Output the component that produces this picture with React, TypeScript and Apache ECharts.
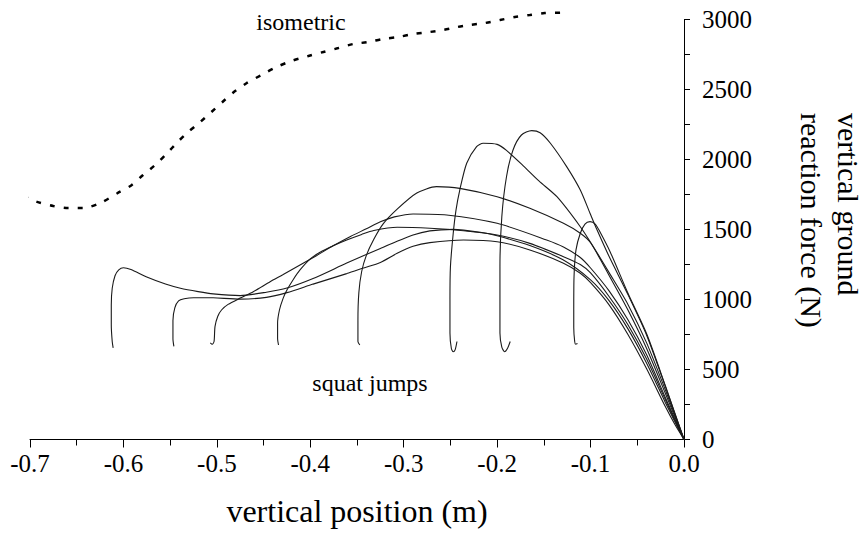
import React, { useEffect, useRef } from "react";
import * as echarts from "echarts";

type Pt = [number, number];

const xTickLabels = ["-0.7", "-0.6", "-0.5", "-0.4", "-0.3", "-0.2", "-0.1", "0.0"];
const annotations = ["isometric", "squat jumps"];
const yAxisTitle = "vertical ground\nreaction force (N)";
const xAxisTitle = "vertical position (m)";

const isometric: Pt[] = [
  [-0.707, 1739], [-0.693, 1699], [-0.675, 1668], [-0.659, 1654], [-0.643, 1654],
  [-0.625, 1689], [-0.606, 1761], [-0.591, 1818], [-0.579, 1889], [-0.566, 1961],
  [-0.553, 2046], [-0.543, 2118], [-0.532, 2189], [-0.519, 2261], [-0.507, 2332],
  [-0.494, 2411], [-0.483, 2475], [-0.468, 2546], [-0.452, 2604], [-0.436, 2661],
  [-0.42, 2704], [-0.402, 2739], [-0.386, 2768], [-0.37, 2796], [-0.354, 2825],
  [-0.338, 2839], [-0.322, 2861], [-0.306, 2875], [-0.29, 2896], [-0.272, 2911],
  [-0.258, 2925], [-0.243, 2946], [-0.229, 2961], [-0.213, 2975], [-0.197, 2996],
  [-0.181, 3018], [-0.165, 3032], [-0.149, 3046], [-0.131, 3049],
];

const jumpA: Pt[] = [
  [-0.611, 655], [-0.612, 700], [-0.613, 820], [-0.613, 960], [-0.612, 1080],
  [-0.609, 1170], [-0.605, 1212], [-0.6, 1227], [-0.592, 1214], [-0.575, 1160],
  [-0.555, 1110], [-0.539, 1080], [-0.52, 1056], [-0.504, 1040], [-0.475, 1028],
  [-0.447, 1052], [-0.425, 1082], [-0.397, 1150], [-0.361, 1260], [-0.325, 1365],
  [-0.29, 1460], [-0.272, 1490], [-0.247, 1501], [-0.218, 1480], [-0.2, 1455],
  [-0.165, 1385], [-0.13, 1285], [-0.1, 1140], [-0.08, 990], [-0.06, 790],
  [-0.04, 545], [-0.02, 265], [-0.01, 130], [0, 0],
];

const jumpB: Pt[] = [
  [-0.546, 665], [-0.547, 720], [-0.547, 850], [-0.545, 940], [-0.541, 990],
  [-0.535, 1005], [-0.525, 1013], [-0.504, 1012], [-0.475, 1003], [-0.447, 1015],
  [-0.425, 1049], [-0.397, 1110], [-0.361, 1185], [-0.343, 1225], [-0.325, 1265],
  [-0.307, 1330], [-0.29, 1380], [-0.272, 1406], [-0.236, 1425], [-0.2, 1413],
  [-0.165, 1354], [-0.129, 1259], [-0.111, 1187], [-0.1, 1120], [-0.08, 960],
  [-0.06, 750], [-0.04, 505], [-0.02, 235], [-0.01, 110], [0, 0],
];

const jumpC: Pt[] = [
  [-0.507, 690], [-0.505, 680], [-0.503, 700], [-0.502, 806], [-0.499, 880],
  [-0.495, 925], [-0.488, 965], [-0.475, 1010], [-0.461, 1056], [-0.443, 1127],
  [-0.429, 1178], [-0.411, 1246], [-0.393, 1315], [-0.375, 1385], [-0.357, 1450],
  [-0.34, 1505], [-0.325, 1555], [-0.31, 1590], [-0.29, 1611], [-0.254, 1604],
  [-0.2, 1544], [-0.147, 1425], [-0.129, 1375], [-0.111, 1300], [-0.1, 1225],
  [-0.08, 1060], [-0.06, 855], [-0.04, 605], [-0.02, 300], [-0.01, 150], [0, 0],
];

const jumpD: Pt[] = [
  [-0.434, 675], [-0.435, 720], [-0.435, 830], [-0.433, 925], [-0.429, 1010],
  [-0.425, 1068], [-0.418, 1145], [-0.411, 1211], [-0.4, 1290], [-0.39, 1335],
  [-0.375, 1385], [-0.361, 1425], [-0.345, 1465], [-0.332, 1493], [-0.307, 1516],
  [-0.272, 1509], [-0.236, 1491], [-0.2, 1461], [-0.165, 1401], [-0.129, 1306],
  [-0.111, 1250], [-0.1, 1190], [-0.08, 1020], [-0.06, 820], [-0.04, 575],
  [-0.02, 285], [-0.01, 140], [0, 0],
];

const jumpE: Pt[] = [
  [-0.347, 675], [-0.349, 700], [-0.349, 850], [-0.348, 1050], [-0.345, 1200],
  [-0.34, 1315], [-0.332, 1430], [-0.322, 1540], [-0.307, 1645], [-0.286, 1760],
  [-0.265, 1806], [-0.24, 1794], [-0.2, 1734], [-0.165, 1651], [-0.129, 1544],
  [-0.111, 1473], [-0.1, 1405], [-0.08, 1170], [-0.06, 925], [-0.04, 650],
  [-0.02, 330], [-0.01, 165], [0, 0],
];

const jumpF: Pt[] = [
  [-0.243, 700], [-0.245, 640], [-0.247, 627], [-0.249, 650], [-0.2505, 760],
  [-0.2505, 1000], [-0.25, 1234], [-0.247, 1473], [-0.244, 1640], [-0.24, 1782],
  [-0.2326, 1973], [-0.222, 2092], [-0.215, 2116], [-0.2, 2108], [-0.19, 2065],
  [-0.172, 1955], [-0.155, 1845], [-0.136, 1734], [-0.111, 1520], [-0.097, 1377],
  [-0.08, 1190], [-0.06, 965], [-0.04, 690], [-0.02, 355], [-0.01, 178], [0, 0],
];

const jumpG: Pt[] = [
  [-0.186, 700], [-0.189, 650], [-0.192, 627], [-0.195, 660], [-0.197, 760],
  [-0.197, 1000], [-0.197, 1234], [-0.195, 1591], [-0.19, 1877], [-0.183, 2068],
  [-0.174, 2175], [-0.163, 2206], [-0.154, 2191], [-0.143, 2116], [-0.1256, 1949],
  [-0.111, 1782], [-0.1006, 1616], [-0.093, 1496], [-0.08, 1305], [-0.06, 1035],
  [-0.04, 745], [-0.02, 380], [-0.01, 190], [0, 0],
];

const jumpH: Pt[] = [
  [-0.114, 685], [-0.116, 680], [-0.117, 700], [-0.118, 800], [-0.118, 925],
  [-0.1177, 1163], [-0.1156, 1354], [-0.111, 1473], [-0.106, 1539], [-0.1006, 1556],
  [-0.095, 1539], [-0.09, 1484], [-0.079, 1340], [-0.06, 1045], [-0.04, 755],
  [-0.02, 385], [-0.01, 192], [0, 0],
];

const squatJumps: Pt[][] = [jumpA, jumpB, jumpC, jumpD, jumpE, jumpF, jumpG, jumpH];

const FONT = "'Liberation Serif', 'Times New Roman', serif";

export default function App() {
  const ref = useRef<HTMLDivElement>(null);

  useEffect(() => {
    if (!ref.current) return;
    const chart = echarts.init(ref.current, null, { renderer: "svg" });
    const axisLineStyle = { color: "#000", width: 1 };
    chart.setOption({
      animation: false,
      backgroundColor: "#fff",
      grid: {
        left: 30,
        right: 183,
        top: 19.5,
        bottom: 95.5,
        containLabel: false,
        outerBoundsMode: "none",
      },
      xAxis: {
        type: "value",
        min: -0.7,
        max: 0,
        interval: 0.1,
        position: "bottom",
        axisLine: { show: true, onZero: false, lineStyle: axisLineStyle },
        axisTick: { show: true, length: 8, lineStyle: axisLineStyle },
        minorTick: { show: true, splitNumber: 2, length: 6, lineStyle: axisLineStyle },
        splitLine: { show: false },
        axisLabel: {
          fontFamily: FONT,
          fontSize: 25,
          color: "#000",
          margin: 11,
          formatter: (v: number) => xTickLabels[Math.round((v + 0.7) * 10)] ?? v.toFixed(1),
        },
        name: xAxisTitle,
        nameLocation: "middle",
        nameGap: 55,
        nameTextStyle: { fontFamily: FONT, fontSize: 32, color: "#000" },
      },
      yAxis: {
        type: "value",
        position: "right",
        min: 0,
        max: 3000,
        interval: 500,
        axisLine: { show: true, onZero: false, lineStyle: axisLineStyle },
        axisTick: { show: true, inside: false, length: 6, lineStyle: axisLineStyle },
        minorTick: { show: true, splitNumber: 2, length: 6, lineStyle: axisLineStyle },
        splitLine: { show: false },
        axisLabel: {
          fontFamily: FONT,
          fontSize: 25,
          color: "#000",
          margin: 18,
          formatter: (v: number) => String(v),
        },
      },
      series: [
        {
          type: "line",
          name: "isometric",
          data: isometric,
          showSymbol: false,
          clip: false,
          smooth: 0.3,
          lineStyle: { color: "#000", width: 2.5, type: [5, 9] },
        },
        ...squatJumps.map((d, i) => ({
          type: "line",
          name: "squat jump " + (i + 1),
          data: d,
          showSymbol: false,
          clip: false,
          smooth: 0.25,
          lineStyle: { color: "#1a1a1a", width: 1.1 },
        })),
      ],
      graphic: [
        {
          type: "text",
          x: 301,
          y: 22,
          style: {
            text: annotations[0],
            fontFamily: FONT,
            fontSize: 24,
            fill: "#000",
            align: "center",
            verticalAlign: "middle",
          },
        },
        {
          type: "text",
          x: 370,
          y: 383,
          style: {
            text: annotations[1],
            fontFamily: FONT,
            fontSize: 24,
            fill: "#000",
            align: "center",
            verticalAlign: "middle",
          },
        },
        {
          type: "text",
          x: 830,
          y: 113,
          rotation: -Math.PI / 2,
          style: {
            text: yAxisTitle,
            fontFamily: FONT,
            fontSize: 30,
            lineHeight: 37,
            fill: "#000",
            align: "left",
            verticalAlign: "middle",
          },
        },
      ],
    });
    return () => chart.dispose();
  }, []);

  return (
    <div
      ref={ref}
      style={{ position: "absolute", left: 0, top: 0, width: 867, height: 535 }}
    />
  );
}
